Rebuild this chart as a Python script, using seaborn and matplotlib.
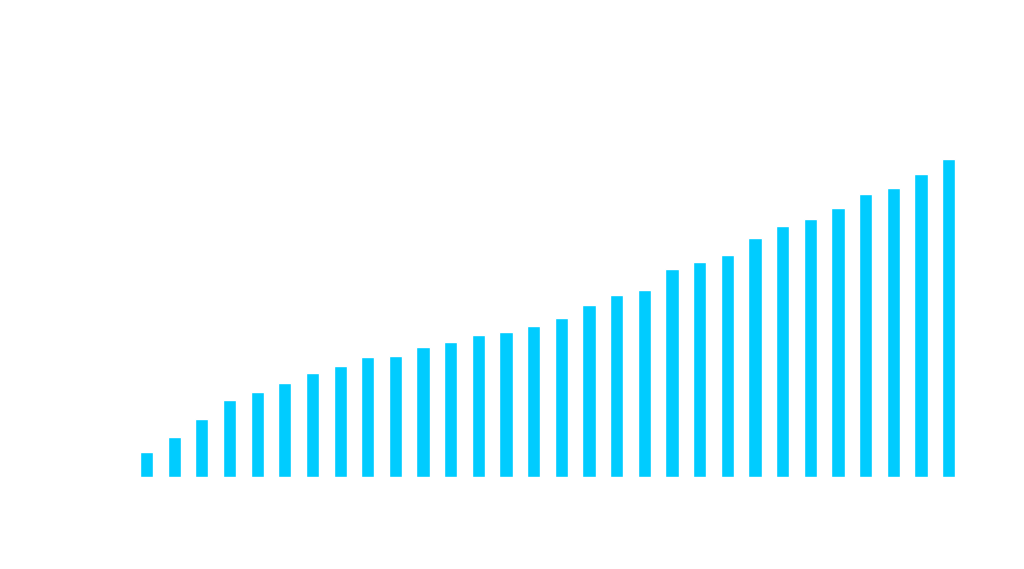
import matplotlib
matplotlib.use("Agg")
import matplotlib.pyplot as plt
import seaborn as sns
import pandas as pd

# --- データ ---
categories = [str(k) for k in range(1, 31)]
values = [25, 40, 58, 77, 85, 94, 103, 110, 119, 120,
          129, 134, 141, 144, 150, 158, 171, 181, 186, 207,
          214, 221, 238, 250, 257, 268, 282, 288, 301, 316]

df = pd.DataFrame({"category": categories, "value": values})

sns.set_theme(style="white")
fig = plt.figure(figsize=(10.24, 5.69), dpi=100)
ax = fig.add_axes([0.1296, 0.1617, 0.8103, 0.733])

sns.barplot(data=df, x="category", y="value", color="#00CCFF",
            saturation=1, width=0.48, ax=ax)
ax.set_xlim(-0.5, len(categories) - 0.5)
ax.set_ylim(0, 415)
ax.axis("off")

fig.savefig("out.png", dpi=100, facecolor="white")
